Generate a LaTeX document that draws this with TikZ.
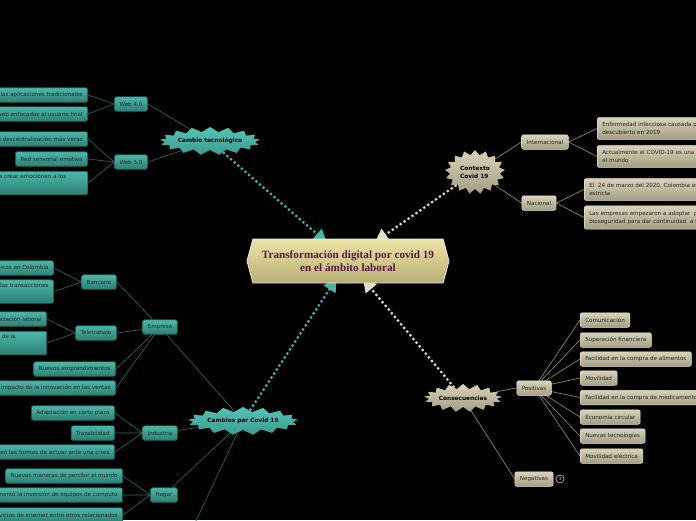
\documentclass[tikz,border=0pt]{standalone}
\usepackage{fontspec}
\setmainfont{DejaVu Sans}
\newfontfamily\titlefont{Liberation Serif}
\usetikzlibrary{shapes.symbols,arrows.meta}
\definecolor{tealA}{HTML}{4DB8AA}
\definecolor{tealB}{HTML}{2C8074}
\definecolor{tealD}{HTML}{1D5E56}
\definecolor{tealL}{HTML}{2E6E65}
\definecolor{tealDot}{HTML}{45B5A8}
\definecolor{tstarA}{HTML}{55C4B6}
\definecolor{tstarB}{HTML}{3A9C90}
\definecolor{begA}{HTML}{D8D2B8}
\definecolor{begB}{HTML}{A49E84}
\definecolor{begD}{HTML}{EAE6D2}
\definecolor{begL}{HTML}{9A947C}
\definecolor{begDot}{HTML}{E4DEC6}
\definecolor{cenA}{HTML}{EEE6A8}
\definecolor{cenB}{HTML}{B5AD72}
\definecolor{cenT}{HTML}{5E1744}
\pgfdeclarelayer{bg}\pgfdeclarelayer{edges}\pgfsetlayers{bg,edges,main}
\tikzset{
 small/.style={font=\fontsize{5.6}{8}\selectfont},
 tbox/.style={rectangle, rounded corners=2pt, top color=tealA, bottom color=tealB, draw=tealD, line width=0.7pt, small, text=black!85, inner xsep=5pt, inner ysep=2pt, minimum height=14.5pt},
 bbox/.style={rectangle, rounded corners=2pt, top color=begA, bottom color=begB, draw=begD, line width=0.5pt, small, text=black!85, inner xsep=5pt, inner ysep=2pt, minimum height=14.5pt},
 topline/.style={text height=4.5pt, text depth=13pt, inner ysep=3pt},
 twol/.style={text width=125pt, align=left, inner ysep=4.8pt},
 tstar/.style={starburst, starburst points=17, starburst point height=5pt, random starburst=0, top color=tstarA, bottom color=tstarB, font=\bfseries\fontsize{5.8}{8}\selectfont, text=black, inner sep=0pt},
 bstar/.style={tstar, top color=begA, bottom color=begB},
 tline/.style={draw=tealL, line width=0.6pt},
 bline/.style={draw=begL, line width=0.6pt},
 dotT/.style={draw=tealDot, line width=2.2pt, dash pattern=on 2.2pt off 2.6pt, -{Triangle[length=13pt,width=14pt]}, shorten >=-6pt},
 dotB/.style={dotT, draw=begDot},
 central/.style={signal, signal to=east and west, signal pointer angle=150, minimum width=202pt, minimum height=44pt, top color=cenA, bottom color=cenB, draw=begD, line width=0.8pt, align=center, text=cenT, font=\titlefont\bfseries\fontsize{11.2}{13}\selectfont}
}
\begin{document}
\begin{tikzpicture}[x=1pt,y=-1pt]
\begin{pgfonlayer}{bg}
\fill[black] (0,0) rectangle (696,520);
\end{pgfonlayer}
\useasboundingbox (0,0) rectangle (696,520);

\node[central] (c) at (348,261) {Transformación digital por covid 19\\en el ámbito laboral};

% Cambio tecnologico
\node[tstar, minimum width=90pt, minimum height=28pt] (ct) at (210,141) {Cambio tecnológico};
\node[tbox] (w4) at (131,104) {Web 4.0};
\node[tbox] (w5) at (131,162) {Web 5.0};
\node[tbox, anchor=east] (l1) at (88,95) {las aplicaciones tradicionales};
\node[tbox, anchor=east] (l2) at (88,114) {web enfocadas al usuario final};
\node[tbox, anchor=east] (l3) at (88,139) {a descentralización más veraz};
\node[tbox, anchor=east] (l4) at (88,159) {Red sensorial emotiva};
\node[tbox, topline, anchor=east, minimum width=110pt] (l5) at (88,183) {a crear emocionen a los};

% Cambios por Covid 19
\node[tstar, minimum width=95pt, minimum height=28pt] (cc) at (243,421) {Cambios por Covid 19};
\node[tbox] (emp) at (160,327) {Empresa};
\node[tbox] (ban) at (99,282) {Bancario};
\node[tbox] (tel) at (96,333) {Teletrabajo};
\node[tbox, anchor=east] (b1) at (54,268) {gicos en Colombia};
\node[tbox, topline, anchor=east] (b2) at (54,291.5) {las transacciones};
\node[tbox, anchor=east] (t1) at (47,319) {nización laboral};
\node[tbox, topline, anchor=east, minimum width=80pt] (t2) at (47,343) {s de la};
\node[tbox, anchor=east] (e3) at (116,369) {Nuevos emprendimientos};
\node[tbox, anchor=east] (e4) at (116,388) {l impacto de la innovación en las ventas};
\node[tbox] (ind) at (160,433) {Industria};
\node[tbox, anchor=east] (i1) at (115,413) {Adaptación en corto plazo};
\node[tbox, anchor=east] (i2) at (115,433) {Trazabilidad};
\node[tbox, anchor=east] (i3) at (115,452) {en las formas de actuar ante una crisis};
\node[tbox] (hog) at (164,495) {Hogar};
\node[tbox, anchor=east] (h1) at (123,476) {Nuevas maneras de percibir el mundo};
\node[tbox, anchor=east] (h2) at (123,495) {mentó la inversión de equipos de computo};
\node[tbox, anchor=east] (h3) at (123,515) {vicios de internet entre otros relacionados};
\coordinate (off) at (187,540);

% Contexto Covid 19
\node[bstar, minimum width=60pt, minimum height=44pt, align=left] (cx) at (475,172) {Contexto\\Covid 19};
\node[bbox] (int) at (545,142) {Internacional};
\node[bbox] (nac) at (539,203) {Nacional};
\node[bbox, twol, anchor=west] (r1) at (597,128.5) {Enfermedad infecciosa causada p\\descubierto en 2019};
\node[bbox, twol, anchor=west] (r2) at (597,156.5) {Actualmente el COVID-19 es una p\\el mundo};
\node[bbox, twol, anchor=west] (n1) at (584,189.5) {El\ \ 24 de marzo del 2020, Colombia en\\estricta};
\node[bbox, twol, anchor=west] (n2) at (584,217.5) {Las empresas empezaron a adoptar\ \ p\\bioseguridad para dar continuidad\ \ a l};

% Consecuencias
\node[bstar, minimum width=72pt, minimum height=28pt] (cs) at (463,398) {Consecuencias};
\node[bbox] (pos) at (534,388) {Positivas};
\node[bbox] (neg) at (534,479) {Negativas};
\node[circle, draw=begA, fill=black, line width=0.6pt, inner sep=0pt, minimum size=8pt, font=\fontsize{4.5}{5}\selectfont, text=begA] (n3) at (560,479) {3};
\node[bbox, anchor=west] (p1) at (580,320) {Comunicación};
\node[bbox, anchor=west] (p2) at (580,340) {Superación financiera};
\node[bbox, anchor=west] (p3) at (580,359) {Facilidad en la compra de alimentos};
\node[bbox, anchor=west] (p4) at (580,378) {Movilidad};
\node[bbox, anchor=west] (p5) at (580,397.5) {Facilidad en la compra de medicamentos};
\node[bbox, anchor=west] (p6) at (580,417) {Economía circular};
\node[bbox, anchor=west] (p7) at (580,436) {Nuevas tecnologías};
\node[bbox, anchor=west] (p8) at (580,456) {Movilidad eléctrica};

\begin{pgfonlayer}{edges}
\draw[dotT] (ct) -- (c);
\draw[dotT] (cc) -- (c);
\draw[dotB] (cx) -- (c);
\draw[dotB] (cs) -- (c);
\draw[tline] (ct) -- (w4.east) (ct) -- (w5.east);
\draw[tline] (w4.west) -- (l1.east) (w4.west) -- (l2.east);
\draw[tline] (w5.west) -- (l3.east) (w5.west) -- (l4.east) (w5.west) -- (l5.east);
\draw[tline] (cc) -- (emp) (cc) -- (ind) (cc) -- (hog) (cc) -- (off);
\draw[tline] (emp) -- (ban.east) (emp) -- (tel.east) (emp) -- (e3.east) (emp) -- (e4.east);
\draw[tline] (ban.west) -- (b1.east) (ban.west) -- (b2.east);
\draw[tline] (tel.west) -- (t1.east) (tel.west) -- (t2.east);
\draw[tline] (ind.west) -- (i1.east) (ind.west) -- (i2.east) (ind.west) -- (i3.east);
\draw[tline] (hog.west) -- (h1.east) (hog.west) -- (h2.east) (hog.west) -- (h3.east);
\draw[bline] (cx) -- (int.west) (cx) -- (nac.west);
\draw[bline] (int.east) -- (r1.west) (int.east) -- (r2.west);
\draw[bline] (nac.east) -- (n1.west) (nac.east) -- (n2.west);
\draw[bline] (cs) -- (pos.west) (cs) -- (neg.west);
\foreach \p in {p1,p2,p3,p4,p5,p6,p7,p8} \draw[bline] (pos.center) -- (\p.west);
\end{pgfonlayer}
\end{tikzpicture}
\end{document}
